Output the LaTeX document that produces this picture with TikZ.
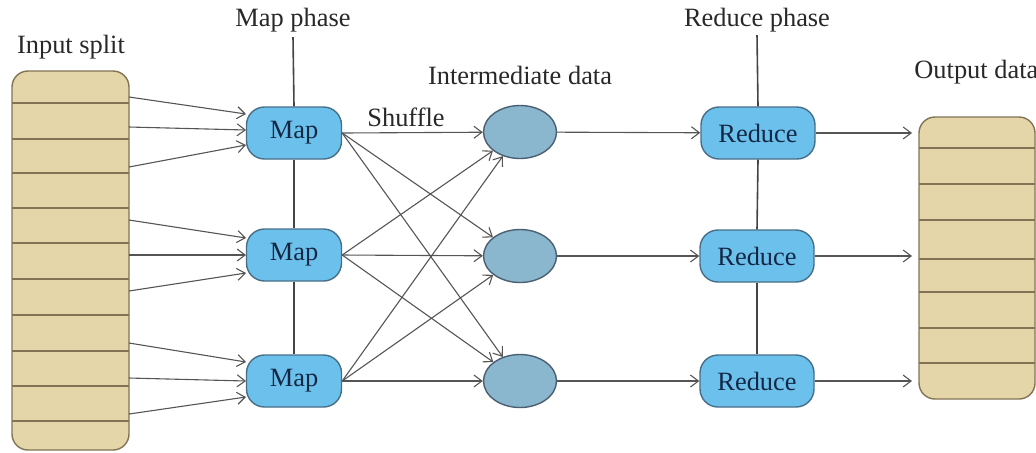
\documentclass[tikz,border=0pt]{standalone}
\usepackage{fontspec}
\setmainfont{Liberation Serif}
\usetikzlibrary{arrows.meta,shapes.geometric}
\definecolor{mapfill}{RGB}{108,193,236}
\definecolor{mapline}{RGB}{72,110,135}
\definecolor{imfill}{RGB}{138,182,206}
\definecolor{imline}{RGB}{75,95,115}
\definecolor{tanfill}{RGB}{228,214,169}
\definecolor{tanline}{RGB}{130,115,85}
\definecolor{ln}{RGB}{85,85,85}
\definecolor{txt}{RGB}{40,40,40}
\definecolor{boxtxt}{RGB}{20,40,70}
\tikzset{
  x=0.5pt, y=-0.5pt,
  every node/.style={font=\fontsize{13.2}{15}\selectfont, text=txt},
  mapbox/.style={draw=mapline, fill=mapfill, line width=0.7pt, rounded corners=9pt, minimum width=47.5pt, minimum height=26pt, inner sep=0pt, text=boxtxt},
  redbox/.style={mapbox, minimum width=57pt},
  imnode/.style={ellipse, draw=imline, fill=imfill, line width=0.7pt, minimum width=36.5pt, minimum height=26.5pt, inner sep=0pt},
  conn/.style={draw=ln, line width=0.55pt, -{Straight Barb[length=4pt,width=6pt]}},
  spine/.style={draw=ln!80!black, line width=0.8pt},
  label/.style={inner sep=0pt}
}
\begin{document}
\begin{tikzpicture}
\useasboundingbox (0,0) rectangle (1036,452);
% labels
\node[label] (lin) at (71,47) {Input split};
\node[label] (lmap) at (293,20) {Map phase};
\node[label] (lint) at (520,75) {Intermediate data};
\node[label] (lred) at (757,20) {Reduce phase};
\node[label, anchor=west] (lout) at (914,72) {Output data};
\node[label] (lsh) at (406,117) {Shuffle};
% input split box
\draw[draw=tanline, fill=tanfill, line width=0.7pt, rounded corners=8pt] (12,71) rectangle (129,450);
\foreach \yy in {103,139,173,208,243,279,315,351,386,421}
  \draw[draw=tanline, line width=0.7pt] (12,\yy) -- (129,\yy);
% output box
\draw[draw=tanline, fill=tanfill, line width=0.7pt, rounded corners=8pt] (919,117) rectangle (1035,399);
\foreach \yy in {148,184,220,259,292,328,363}
  \draw[draw=tanline, line width=0.7pt] (919,\yy) -- (1035,\yy);
% spine coordinates
\coordinate (mtop) at (293,37);
\coordinate (rtop) at (757,35);
% map nodes
\node[mapbox] (m1) at (294,133) {Map};
\node[mapbox] (m2) at (294,255) {Map};
\node[mapbox] (m3) at (294,381) {Map};
% intermediate
\node[imnode] (i1) at (520,132) {};
\node[imnode] (i2) at (520,256) {};
\node[imnode] (i3) at (520,381) {};
% reduce
\node[redbox] (r1) at (758,133) {Reduce};
\node[redbox] (r2) at (757,256) {Reduce};
\node[redbox] (r3) at (757,381) {Reduce};
% spines
\draw[spine] (mtop) -- (m1.north);
\draw[spine] (m1.south) -- (m2.north);
\draw[spine] (m2.south) -- (m3.north);
\draw[spine] (rtop) -- (r1.north);
\draw[spine] (r1.south) -- (r2.north);
\draw[spine] (r2.south) -- (r3.north);
% input arrow sources / targets
\foreach \n/\sy/\ty/\m in {a/97/114/1, b/127/130/1, c/167/145/1, d/220/238/2, e/255/255/2, f/291/273/2, g/343/362/3, h/378/381/3, k/414/397/3}{
  \coordinate (s\n) at (129,\sy);
  \coordinate (t\n) at (246,\ty);
  \draw[conn] (s\n) -- (t\n);
}
% shuffle
\foreach \a in {1,2,3}
  \foreach \b in {1,2,3}
    \draw[conn] (m\a.east) -- (i\b);
% intermediate -> reduce
\draw[conn] (i1) -- (r1);
\draw[conn] (i2) -- (r2);
\draw[conn] (i3) -- (r3);
% reduce -> output
\coordinate (o1) at (912,133);
\coordinate (o2) at (912,256);
\coordinate (o3) at (912,381);
\draw[conn] (r1) -- (o1);
\draw[conn] (r2) -- (o2);
\draw[conn] (r3) -- (o3);
\end{tikzpicture}
\end{document}
